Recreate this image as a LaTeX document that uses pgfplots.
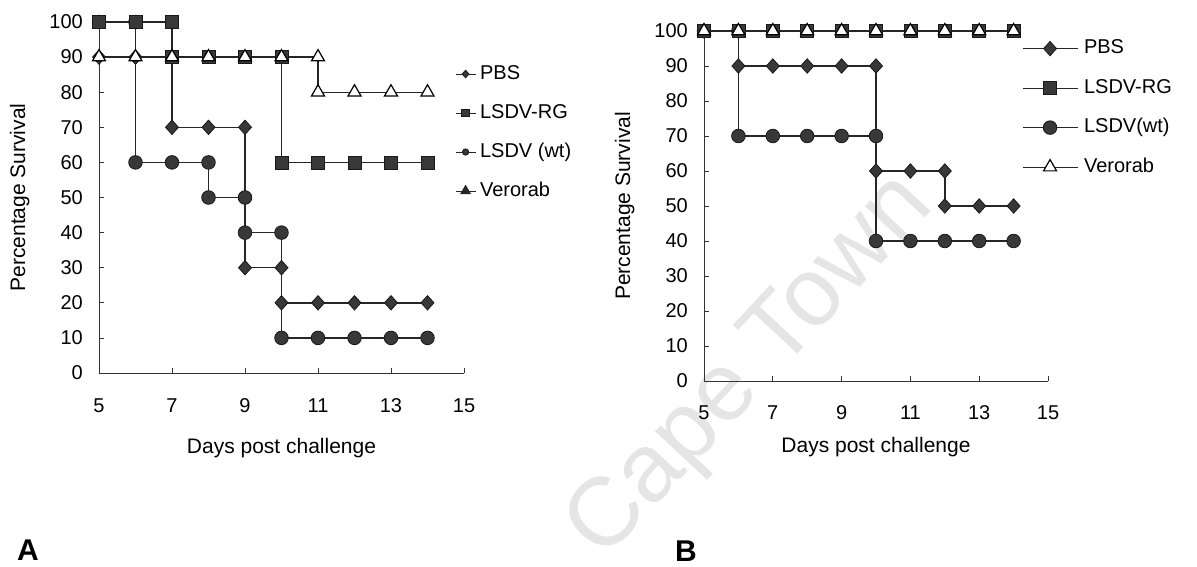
\documentclass[border=0pt]{standalone}
\usepackage{fontspec}
\setmainfont{Liberation Sans}
\usepackage{pgfplots}
\pgfplotsset{compat=1.18}

\pgfplotsset{
  survaxis/.style={
    scale only axis, clip=false,
    xmin=5, xmax=15, ymin=0, ymax=100,
    axis x line=bottom, axis y line=left,
    axis line style={-, black!80, line width=0.8pt},
    xtick={5,7,...,15}, ytick={0,10,...,100},
    tick align=inside, major tick length=5pt,
    tick style={black!80, line width=0.8pt},
    /pgf/number format/assume math mode=true,
    ticklabel style={font=\fontsize{20}{20}\selectfont, inner sep=0pt},
    xticklabel style={anchor=base},
    yticklabel style={anchor=east, xshift=-16pt},
    label style={font=\fontsize{21}{21}\selectfont, inner sep=0pt},
    xlabel={Days post challenge}, ylabel={Percentage Survival},
    legend cell align=left,
  },
  sline/.style={black!85, line width=1.4pt},
  pbs/.style={sline, mark=diamond*, mark size=7.2pt, mark options={solid, fill=black!78, draw=black!90, line width=0.8pt, xscale=1.2}},
  rg/.style={sline, mark=square*, mark size=6.5pt, mark options={solid, fill=black!78, draw=black!90, line width=0.8pt}},
  wt/.style={sline, mark=*, mark size=6.8pt, mark options={solid, fill=black!78, draw=black!90, line width=0.8pt}},
  vero/.style={sline, mark=triangle*, mark size=7.5pt, mark options={solid, fill=white, draw=black, line width=1.2pt}},
}

\begin{document}
\begin{tikzpicture}
\useasboundingbox (0,0) rectangle (1197pt,566pt);
\node[rotate=47, text=black!10, font=\fontsize{97}{97}\selectfont, inner sep=0pt] at (752pt,198pt) {Cape Town};

% ---------- Panel A ----------
\begin{axis}[survaxis,
  at={(99pt,193pt)}, anchor=south west,
  width=365pt, height=351pt,
  xticklabel style={yshift=-39pt},
  xlabel style={at={(axis description cs:0.5,-0.228)}, anchor=base},
  ylabel style={at={(axis description cs:-0.2027,0.5)}, anchor=base},
  legend style={draw=none, fill=none, at={(0.975,0.878)}, anchor=north west,
    font=\fontsize{20}{20}\selectfont, row sep=21pt, column sep=4pt, inner sep=0pt,
    nodes={inner sep=0pt, text height=14pt, text depth=4pt}},
  legend image code/.code={\draw[mark repeat=2,mark phase=2,#1] plot coordinates {(0pt,0pt)(10pt,0pt)(20pt,0pt)};},
]
\addlegendimage{pbs, line width=1pt, mark size=3.8pt}\addlegendentry{PBS}
\addlegendimage{rg, line width=1pt, mark size=3.8pt}\addlegendentry{LSDV-RG}
\addlegendimage{wt, line width=1pt, mark size=3.2pt}\addlegendentry{LSDV (wt)}
\addlegendimage{vero, line width=1pt, mark size=5.5pt, mark options={line width=0.9pt}}\addlegendentry{Verorab}

\addplot[wt, forget plot] coordinates {(5,100)(6,100)(6,60)(7,60)(8,60)(8,50)(9,50)(9,40)(10,40)(10,10)(11,10)(12,10)(13,10)(14,10)};
\addplot[pbs, forget plot] coordinates {(5,90)(6,90)(7,90)(7,70)(8,70)(9,70)(9,30)(10,30)(10,20)(11,20)(12,20)(13,20)(14,20)};
\addplot[rg, forget plot] coordinates {(5,100)(6,100)(7,100)(7,90)(8,90)(9,90)(10,90)(10,60)(11,60)(12,60)(13,60)(14,60)};
\addplot[vero, forget plot] coordinates {(5,90)(6,90)(7,90)(8,90)(9,90)(10,90)(11,90)(11,80)(12,80)(13,80)(14,80)};
\end{axis}

% ---------- Panel B ----------
\begin{axis}[survaxis,
  at={(704pt,185pt)}, anchor=south west,
  width=344pt, height=350pt,
  xticklabel style={yshift=-38pt},
  xlabel style={at={(axis description cs:0.5,-0.2057)}, anchor=base},
  ylabel style={at={(axis description cs:-0.215,0.5)}, anchor=base},
  legend style={draw=none, fill=none, at={(0.924,0.976)}, anchor=north west,
    font=\fontsize{20}{20}\selectfont, row sep=21.5pt, column sep=6pt, inner sep=0pt,
    nodes={inner sep=0pt, text height=14pt, text depth=4pt}},
  legend image code/.code={\draw[mark repeat=2,mark phase=2,#1] plot coordinates {(0pt,0pt)(27.5pt,0pt)(55pt,0pt)};},
]
\addlegendimage{pbs, line width=1pt}\addlegendentry{PBS}
\addlegendimage{rg, line width=1pt}\addlegendentry{LSDV-RG}
\addlegendimage{wt, line width=1pt}\addlegendentry{LSDV(wt)}
\addlegendimage{vero, line width=1pt}\addlegendentry{Verorab}

\addplot[pbs, forget plot] coordinates {(5,100)(6,100)(6,90)(7,90)(8,90)(9,90)(10,90)(10,60)(11,60)(12,60)(12,50)(13,50)(14,50)};
\addplot[wt, forget plot] coordinates {(5,100)(6,100)(6,70)(7,70)(8,70)(9,70)(10,70)(10,40)(11,40)(12,40)(13,40)(14,40)};
\addplot[rg, forget plot] coordinates {(5,100)(6,100)(7,100)(8,100)(9,100)(10,100)(11,100)(12,100)(13,100)(14,100)};
\addplot[vero, forget plot] coordinates {(5,100)(6,100)(7,100)(8,100)(9,100)(10,100)(11,100)(12,100)(13,100)(14,100)};
\end{axis}

\node[anchor=base west, inner sep=0pt, font=\fontsize{30}{30}\selectfont\bfseries] at (17pt,6pt) {A};
\node[anchor=base west, inner sep=0pt, font=\fontsize{30}{30}\selectfont\bfseries] at (675pt,5pt) {B};
\end{tikzpicture}
\end{document}
